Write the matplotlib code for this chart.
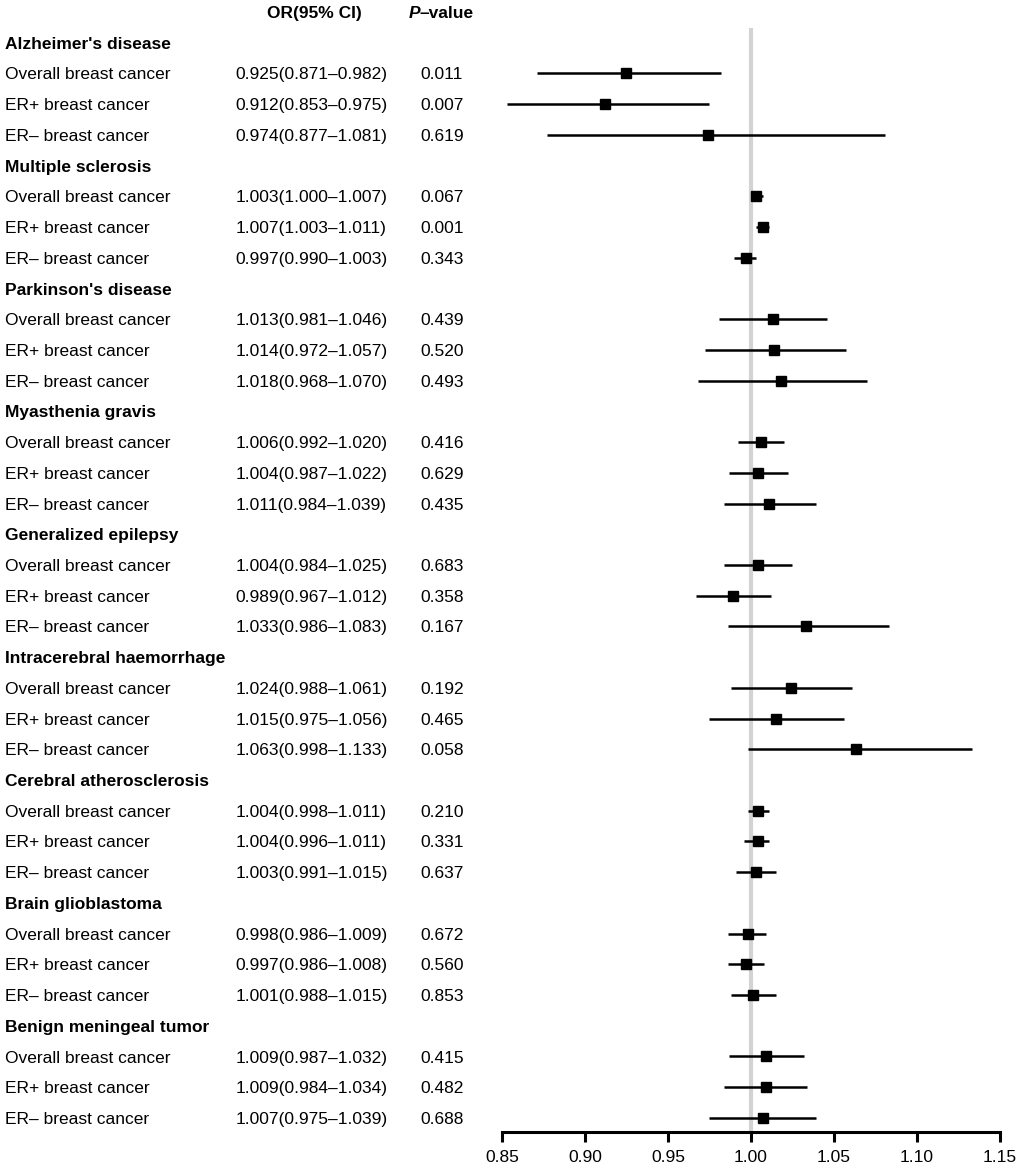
import matplotlib.pyplot as plt
from matplotlib.transforms import blended_transform_factory

plt.rcParams['font.family'] = ['Liberation Sans', 'DejaVu Sans']

groups = ["Alzheimer's disease", "Multiple sclerosis", "Parkinson's disease",
          "Myasthenia gravis", "Generalized epilepsy", "Intracerebral haemorrhage",
          "Cerebral atherosclerosis", "Brain glioblastoma", "Benign meningeal tumor"]
subtypes = ["Overall breast cancer", "ER+ breast cancer", "ER\u2013 breast cancer"]

or_val = [0.925, 0.912, 0.974, 1.003, 1.007, 0.997, 1.013, 1.014, 1.018,
          1.006, 1.004, 1.011, 1.004, 0.989, 1.033, 1.024, 1.015, 1.063,
          1.004, 1.004, 1.003, 0.998, 0.997, 1.001, 1.009, 1.009, 1.007]
ci_low = [0.871, 0.853, 0.877, 1.000, 1.003, 0.990, 0.981, 0.972, 0.968,
          0.992, 0.987, 0.984, 0.984, 0.967, 0.986, 0.988, 0.975, 0.998,
          0.998, 0.996, 0.991, 0.986, 0.986, 0.988, 0.987, 0.984, 0.975]
ci_high = [0.982, 0.975, 1.081, 1.007, 1.011, 1.003, 1.046, 1.057, 1.070,
           1.020, 1.022, 1.039, 1.025, 1.012, 1.083, 1.061, 1.056, 1.133,
           1.011, 1.011, 1.015, 1.009, 1.008, 1.015, 1.032, 1.034, 1.039]
p_val = ["0.011", "0.007", "0.619", "0.067", "0.001", "0.343", "0.439", "0.520", "0.493",
         "0.416", "0.629", "0.435", "0.683", "0.358", "0.167", "0.192", "0.465", "0.058",
         "0.210", "0.331", "0.637", "0.672", "0.560", "0.853", "0.415", "0.482", "0.688"]
xticks = [0.85, 0.90, 0.95, 1.00, 1.05, 1.10, 1.15]

W, H = 1020, 1169
fig = plt.figure(figsize=(W / 100, H / 100), dpi=100)
ax = fig.add_axes([502 / W, (H - 1132) / H, 498 / W, 1132 / H])

# row 0 = column header, then a title row + 3 rows per group
row_px = 30.72
ax.set_ylim((1132 - 12) / row_px, -12 / row_px)
ax.set_xlim(0.85, 1.15)

tr = blended_transform_factory(fig.transFigure, ax.transData)
fs = 12.5
dy = 0.05  # small nudge down for text baseline

ax.text(267 / W, dy, "OR(95% CI)", transform=tr, fontsize=fs, fontweight='bold',
        va='center', ha='left', clip_on=False)
ax.text(420 / W, dy, "P", transform=tr, fontsize=fs, fontweight='bold', style='italic',
        va='center', ha='right', clip_on=False)
ax.text(420 / W, dy, "\u2013value", transform=tr, fontsize=fs, fontweight='bold',
        va='center', ha='left', clip_on=False)

ax.vlines(1.0, 0.52, (1132 - 12) / row_px, color='#d3d3d3', lw=3, zorder=1)

i = 0
for g, name in enumerate(groups):
    r = 1 + g * 4
    ax.text(5 / W, r + dy, name, transform=tr, fontsize=fs, fontweight='bold',
            va='center', ha='left', clip_on=False)
    for s, sub in enumerate(subtypes):
        y = r + 1 + s
        ax.text(5 / W, y + dy, sub, transform=tr, fontsize=fs, va='center', ha='left',
                clip_on=False)
        ax.text(311.5 / W, y + dy, f"{or_val[i]:.3f}({ci_low[i]:.3f}\u2013{ci_high[i]:.3f})",
                transform=tr, fontsize=fs, va='center', ha='center', clip_on=False)
        ax.text(442 / W, y + dy, p_val[i], transform=tr, fontsize=fs, va='center',
                ha='center', clip_on=False)
        ax.hlines(y, ci_low[i], ci_high[i], color='black', lw=1.8, zorder=2)
        ax.plot(or_val[i], y, marker='s', color='black', markersize=6.5, zorder=3)
        i += 1

for sp in ['top', 'right', 'left']:
    ax.spines[sp].set_visible(False)
ax.spines['bottom'].set_linewidth(2.2)
ax.set_yticks([])
ax.set_xticks(xticks)
ax.set_xticklabels([f"{t:.2f}" for t in xticks])
ax.tick_params(axis='x', direction='out', length=7, width=2.2, labelsize=fs, pad=6)

fig.savefig("out.png", dpi=100)
